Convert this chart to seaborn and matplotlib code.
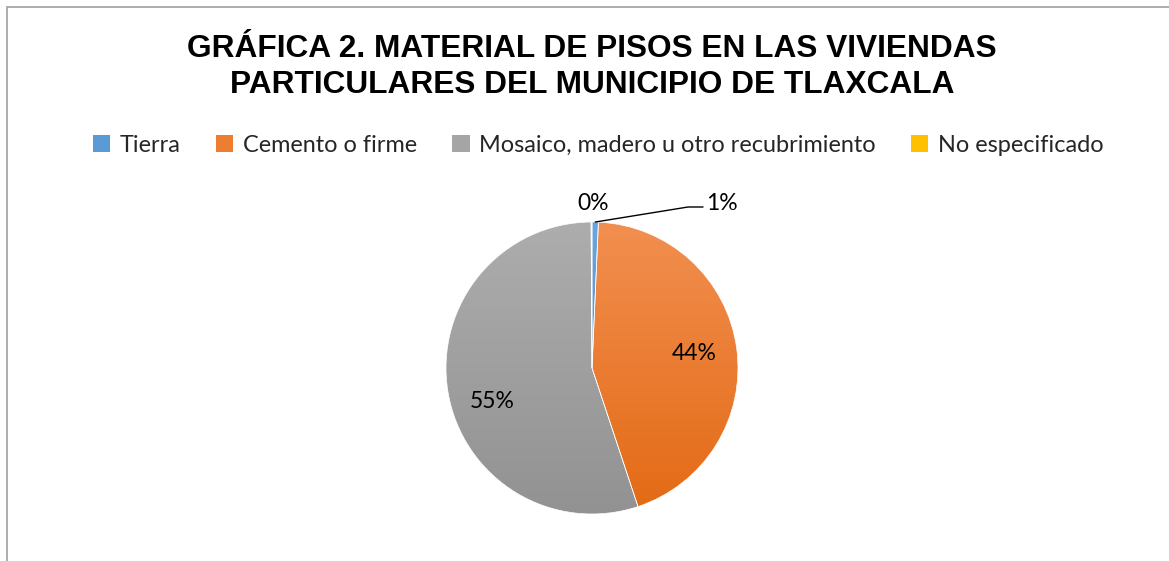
import numpy as np
import matplotlib
matplotlib.use("Agg")
import matplotlib.pyplot as plt
import matplotlib.colors as mcolors
from matplotlib.patches import Rectangle
import seaborn as sns

categories = ["Tierra", "Cemento o firme", "Mosaico, madero u otro recubrimiento", "No especificado"]
values = [0.7, 44.2, 55.0, 0.1]
title = "GRÁFICA 2. MATERIAL DE PISOS EN LAS VIVIENDAS\nPARTICULARES DEL MUNICIPIO DE TLAXCALA"
top_colors = ["#6AA6DE", "#F28F50", "#ADADAD", "#FFCB20"]
bottom_colors = ["#3F84C9", "#E36A14", "#929292", "#E8AE00"]
base_colors = ["#5B9BD5", "#ED7D31", "#A5A5A5", "#FFC000"]

sns.set_theme(style="white")
plt.rcParams['font.family'] = ['Lato', 'DejaVu Sans']

W, H = 1169, 561
fig = plt.figure(figsize=(W / 100, H / 100), dpi=100)
ax = fig.add_axes([0, 0, 1, 1])
ax.set_xlim(0, W)
ax.set_ylim(0, H)
ax.set_aspect('equal')
ax.axis('off')

cx, cy, R = 592, H - 368, 146

# chart frame
ax.add_patch(Rectangle((6.5, -20), W + 20, H - 6.5 + 20, fill=False,
                       edgecolor="#A0A0A0", lw=1.2, zorder=0))

wedges, texts, autotexts = ax.pie(
    values, colors=base_colors, startangle=90, counterclock=False,
    center=(cx, cy), radius=R, autopct='%1.0f%%', pctdistance=0.71,
    wedgeprops=dict(edgecolor="white", linewidth=0.5),
    textprops=dict(fontsize=16.5, color="black"), frame=False)

ax.set_xlim(0, W)
ax.set_ylim(0, H)

# gradient fills clipped to wedges
grad = np.linspace(0, 1, 256).reshape(-1, 1)
for w, ct, cb in zip(wedges, top_colors, bottom_colors):
    cmap = mcolors.LinearSegmentedColormap.from_list("g", [cb, ct])
    im = ax.imshow(grad, cmap=cmap, origin="lower", aspect="auto",
                   extent=(cx - R, cx + R, cy - R, cy + R), zorder=1.5)
    im.set_clip_path(w)
    w.set_facecolor("none")
    w.set_zorder(2)

# label placement
autotexts[0].set_position((722, H - 203))
autotexts[3].set_position((593, H - 203))
autotexts[2].set_position((492, H - 402))
for t in autotexts:
    t.set_zorder(5)

# leader line for Tierra
theta = np.deg2rad(90 - values[0] / 100 * 360 / 2)
px, py = cx + R * np.cos(theta), cy + R * np.sin(theta)
ax.plot([px, 688, 703], [py, H - 207, H - 207], color="black", lw=1, zorder=4)

ax.set_xlim(0, W)
ax.set_ylim(0, H)

fig.text(592 / W, 1 - 67 / H, title, ha="center", va="center",
         fontsize=22.8, fontweight="bold", family=["Liberation Sans", "DejaVu Sans"],
         color="#000000", linespacing=1.22)

handles = [Rectangle((0, 0), 1, 1, facecolor=c, edgecolor="none") for c in base_colors]
leg = fig.legend(handles, categories, loc="center", bbox_to_anchor=(598 / W, 1 - 145 / H),
                 ncol=4, frameon=False, fontsize=16.9, handlelength=0.75, handleheight=0.75,
                 handletextpad=0.4, columnspacing=1.5)

fig.savefig("out.png", dpi=100)
